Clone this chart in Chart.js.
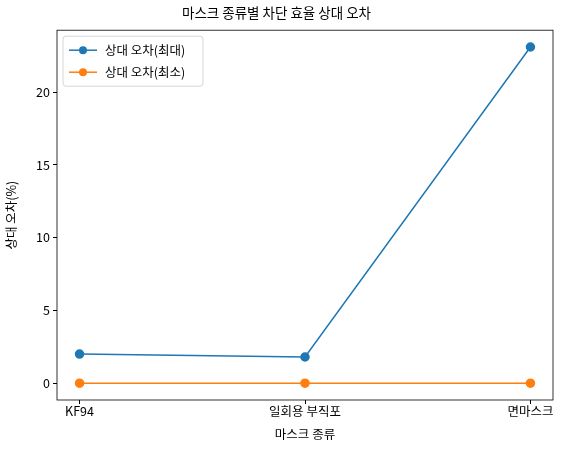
<!DOCTYPE html>
<html><head><meta charset="utf-8">
<script src="https://cdn.jsdelivr.net/npm/chart.js@4"></script>
<style>html,body{margin:0;background:#fff}#c{display:block}</style>
</head><body>
<canvas id="c" width="564" height="454"></canvas>
<script>
const categories = ['KF94', '일회용 부직포', '면마스크'];
const maxError = [2.0, 1.8, 23.1];
const minError = [0.0, 0.0, 0.0];
const yTicks = [0, 5, 10, 15, 20];
const FONT = '"Noto Sans CJK KR", "DejaVu Sans", sans-serif';

const toPoints = arr => arr.map((v, i) => ({x: i, y: v}));

// frame + legend inside plot, matplotlib style
const framePlugin = {
  id: 'frame',
  afterDraw(chart) {
    const {ctx, chartArea: a} = chart;
    ctx.save();
    ctx.strokeStyle = '#000'; ctx.lineWidth = 0.8;
    ctx.strokeRect(a.left, a.top, a.right - a.left, a.bottom - a.top);
    const x0 = a.left + 6, y0 = a.top + 6;
    ctx.fillStyle = 'rgba(255,255,255,0.8)';
    ctx.strokeStyle = '#ccc';
    ctx.beginPath(); ctx.roundRect(x0, y0, 140, 50, 3); ctx.fill(); ctx.stroke();
    ctx.font = '12.5px ' + FONT; ctx.textBaseline = 'middle';
    chart.data.datasets.forEach((ds, i) => {
      const y = y0 + 14 + i * 22;
      ctx.strokeStyle = ds.borderColor; ctx.lineWidth = 1.5;
      ctx.beginPath(); ctx.moveTo(x0 + 6, y); ctx.lineTo(x0 + 34, y); ctx.stroke();
      ctx.fillStyle = ds.backgroundColor;
      ctx.beginPath(); ctx.arc(x0 + 20, y, 4, 0, Math.PI * 2); ctx.fill();
      ctx.fillStyle = '#000'; ctx.fillText(ds.label, x0 + 42, y);
    });
    ctx.restore();
  }
};

new Chart(document.getElementById('c'), {
  type: 'line',
  data: {
    datasets: [
      {label: '상대 오차(최대)', data: toPoints(maxError), borderColor: '#1f77b4', backgroundColor: '#1f77b4', borderWidth: 1.5, pointRadius: 4, pointHoverRadius: 4},
      {label: '상대 오차(최소)', data: toPoints(minError), borderColor: '#ff7f0e', backgroundColor: '#ff7f0e', borderWidth: 1.5, pointRadius: 4, pointHoverRadius: 4}
    ]
  },
  options: {
    responsive: false, animation: false,
    layout: {padding: {right: 11, left: 0, bottom: 8}},
    plugins: {
      legend: {display: false}, tooltip: {enabled: false},
      title: {display: true, text: '마스크 종류별 차단 효율 상대 오차', color: '#000', font: {family: FONT, size: 13.5, weight: 'normal'}, padding: {top: 5, bottom: 9}}
    },
    scales: {
      x: {
        type: 'linear', min: -0.1, max: 2.1,
        afterBuildTicks: s => { s.ticks = categories.map((c, i) => ({value: i})); },
        ticks: {callback: v => categories[v], color: '#000', font: {family: FONT, size: 12.5}, maxRotation: 0, padding: 0},
        grid: {drawOnChartArea: false, tickLength: 4, color: '#000'},
        border: {display: false},
        title: {display: true, text: '마스크 종류', color: '#000', font: {family: FONT, size: 12.5}, padding: {top: 0}},
        afterFit: s => { s.height = 46; }
      },
      y: {
        min: -1.155, max: 24.255,
        afterBuildTicks: s => { s.ticks = yTicks.map(v => ({value: v})); },
        ticks: {color: '#000', font: {family: FONT, size: 12.5}, padding: 3},
        grid: {drawOnChartArea: false, tickLength: 4, color: '#000'},
        border: {display: false},
        title: {display: true, text: '상대 오차(%)', color: '#000', font: {family: FONT, size: 12.5}},
        afterFit: s => { s.width = 57; }
      }
    }
  },
  plugins: [framePlugin]
});
</script>
</body></html>
